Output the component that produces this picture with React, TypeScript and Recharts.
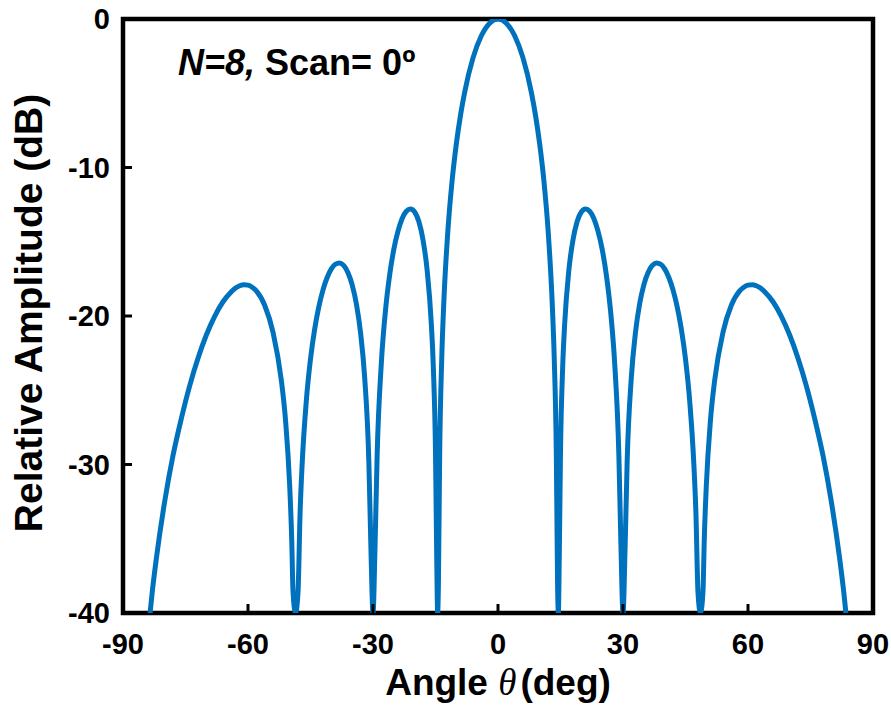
import { LineChart, Line, XAxis, YAxis, ReferenceArea } from "recharts"

// array pattern (angle in deg, relative amplitude in dB)
const angles = [
  -83.5, -83, -82, -80, -78, -76, -74, -72, -70, -68, -66, -64, -63, -62, -61, -60, -59, -58, -56, -54, -52, -51, -50,
  -49.5, -49.2, -48.59, -48, -47.5, -47, -46, -45, -44, -43, -42, -41, -40, -39, -38, -37, -36, -35,
  -34, -33, -32, -31, -30.5, -30, -29.5, -29, -28, -27, -26, -25, -24, -23, -22, -21, -20, -19, -18,
  -17, -16, -15.5, -15, -14.7, -14.48, -14.3, -14, -13.5, -13, -12, -11, -10, -9, -8, -6, -4, -2,
  0,
  2, 4, 6, 8, 9, 10, 11, 12, 13, 13.5, 14, 14.3, 14.48, 14.7, 15, 15.5, 16, 17, 18, 19, 20, 21, 22,
  23, 24, 25, 26, 27, 28, 29, 29.5, 30, 30.5, 31, 32, 33, 34, 35, 36, 37, 38, 39, 40, 41, 42, 43, 44,
  45, 46, 47, 47.5, 48, 48.59, 49.2, 49.5, 50, 51, 52, 54, 56, 58, 59, 60, 61, 62, 63, 64, 66, 68, 70, 72, 74,
  76, 78, 80, 82, 83, 83.5,
]

const amplitudeDb = [
  -40, -38.64, -36.34, -32.5, -29.4, -26.9, -24.7, -22.84, -21.28, -20.02, -19.04, -18.37, -18.11, -17.96, -17.89, -17.92, -18.06, -18.31, -19.28, -21.09, -24.33, -27.0, -31.41,
  -35.11, -38.52, -40, -38.63, -33.26, -29.96, -25.7, -22.9, -20.89, -19.38, -18.24, -17.41, -16.83, -16.51, -16.43, -16.61, -17.08, -17.9,
  -19.17, -21.1, -24.14, -29.77, -35.63, -40, -35.39, -29.3, -23.17, -19.62, -17.23, -15.51, -14.29, -13.44, -12.95, -12.8, -13.0, -13.64, -14.87,
  -16.93, -20.54, -23.62, -29.14, -36.4, -40, -38.07, -29.33, -22.86, -19.06, -14.15, -10.85, -8.41, -6.48, -4.93, -2.62, -1.13, -0.28,
  0,
  -0.28, -1.13, -2.62, -4.93, -6.48, -8.41, -10.85, -14.15, -19.06, -22.86, -29.33, -38.07, -40, -36.4, -29.14, -23.62, -20.54, -16.93, -14.87, -13.64, -13.0, -12.8, -12.95,
  -13.44, -14.29, -15.51, -17.23, -19.62, -23.17, -29.3, -35.39, -40, -35.63, -29.77, -24.14, -21.1, -19.17, -17.9, -17.08, -16.61, -16.43, -16.51, -16.83, -17.41, -18.24, -19.38, -20.89,
  -22.9, -25.7, -29.96, -33.26, -38.63, -40, -38.52, -35.11, -31.41, -27.0, -24.33, -21.09, -19.28, -18.31, -18.06, -17.92, -17.89, -17.96, -18.11, -18.37, -19.04, -20.02, -21.28, -22.84, -24.7,
  -26.9, -29.4, -32.5, -36.34, -38.64, -40,
]

const xTicks = [-90, -60, -30, 0, 30, 60, 90]
const yTicks = [-40, -30, -20, -10, 0]

const data = angles.map((a, i) => ({ angle: a, db: amplitudeDb[i] }))

const FONT = "'Liberation Sans', Arial, Helvetica, sans-serif"
const TICK_LEN = 9

// tick mark pointing into the plot, plus the number label on the bottom/left axes
function InTick(props: any) {
  const { x, y, payload, side } = props
  const common = { stroke: "#000", strokeWidth: 3, fill: "none" }
  const txt = { fill: "#000", stroke: "none", fontSize: 29, fontWeight: 700, fontFamily: FONT }
  if (side === "bottom") {
    return (
      <g>
        <path d={`M${x},${y}V${y - TICK_LEN}`} {...common} />
        <text x={x} y={y + 41} textAnchor="middle" {...txt}>
          {payload.value}
        </text>
      </g>
    )
  }
  if (side === "left") {
    return (
      <g>
        <path d={`M${x},${y}H${x + TICK_LEN}`} {...common} />
        <text x={x - 13} y={y + 10} textAnchor="end" {...txt}>
          {payload.value}
        </text>
      </g>
    )
  }
  if (side === "top") {
    return <path d={`M${x},${y}V${y + TICK_LEN}`} {...common} />
  }
  return <path d={`M${x},${y}H${x - TICK_LEN}`} {...common} />
}

function XTitle(props: any) {
  const vb = props.viewBox
  return (
    <text
      x={vb.x + vb.width / 2}
      y={vb.y + 82}
      textAnchor="middle"
      fontFamily={FONT}
      fontWeight={700}
      fontSize={37}
      fill="#000"
    >
      Angle{" "}
      <tspan fontFamily="'Liberation Serif', 'Times New Roman', serif" fontStyle="italic" fontWeight={400}>
        θ
      </tspan>
      <tspan dx={4}>(deg)</tspan>
    </text>
  )
}

function YTitle(props: any) {
  const vb = props.viewBox
  const cx = vb.x + 42
  const cy = vb.y + vb.height / 2 - 3
  return (
    <text
      x={cx}
      y={cy}
      transform={`rotate(-90, ${cx}, ${cy})`}
      textAnchor="middle"
      fontFamily={FONT}
      fontWeight={700}
      fontSize={39}
      fill="#000"
    >
      Relative Amplitude (dB)
    </text>
  )
}

export default function App() {
  return (
    <div style={{ position: "absolute", left: 0, top: 0, width: 891, height: 708, background: "#fff" }}>
      <LineChart width={891} height={708} data={data} margin={{ top: 19, right: 18, bottom: 0, left: 0 }}>
        <XAxis
          dataKey="angle"
          type="number"
          domain={[-90, 90]}
          ticks={xTicks}
          allowDataOverflow
          height={95}
          axisLine={false}
          tickLine={false}
          tickSize={0}
          tickMargin={0}
          tick={(p: any) => <InTick {...p} side="bottom" />}
          interval={0}
          label={<XTitle />}
        />
        <XAxis
          xAxisId="top"
          orientation="top"
          type="number"
          domain={[-90, 90]}
          ticks={xTicks}
          height={0}
          axisLine={false}
          tickLine={false}
          tickSize={0}
          tickMargin={0}
          tick={(p: any) => <InTick {...p} side="top" />}
          interval={0}
        />
        <YAxis
          type="number"
          domain={[-40, 0]}
          ticks={yTicks}
          allowDataOverflow
          width={123}
          axisLine={false}
          tickLine={false}
          tickSize={0}
          tickMargin={0}
          tick={(p: any) => <InTick {...p} side="left" />}
          interval={0}
          label={<YTitle />}
        />
        <YAxis
          yAxisId="right"
          orientation="right"
          type="number"
          domain={[-40, 0]}
          ticks={yTicks}
          width={0}
          axisLine={false}
          tickLine={false}
          tickSize={0}
          tickMargin={0}
          tick={(p: any) => <InTick {...p} side="right" />}
          interval={0}
        />
        <ReferenceArea
          x1={-90}
          x2={90}
          y1={-40}
          y2={0}
          fill="none"
          fillOpacity={0}
          stroke="#000"
          strokeWidth={4.5}
          strokeOpacity={1}
          ifOverflow="visible"
        />
        <Line
          type="monotone"
          dataKey="db"
          stroke="#0072BD"
          strokeWidth={5}
          dot={false}
          isAnimationActive={false}
        />
      </LineChart>
      <div
        style={{
          position: "absolute",
          left: 178,
          top: 45,
          fontFamily: FONT,
          fontWeight: 700,
          fontSize: 36,
          lineHeight: 1,
          whiteSpace: "nowrap",
          color: "#000",
        }}
      >
        <i>N</i>
        <i>=8,</i> Scan= 0º
      </div>
    </div>
  )
}
